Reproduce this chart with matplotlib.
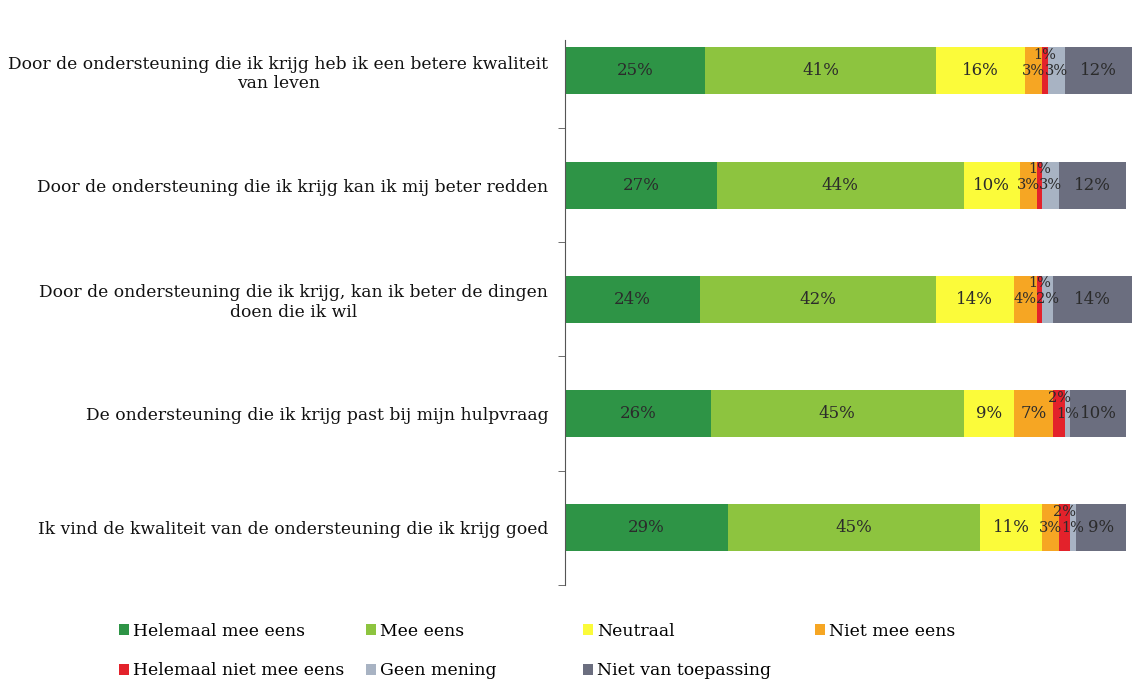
import matplotlib.pyplot as plt
import numpy as np

# statements (top to bottom)
stellingen = [
    "Door de ondersteuning die ik krijg heb ik een betere kwaliteit\nvan leven",
    "Door de ondersteuning die ik krijg kan ik mij beter redden",
    "Door de ondersteuning die ik krijg, kan ik beter de dingen\ndoen die ik wil",
    "De ondersteuning die ik krijg past bij mijn hulpvraag",
    "Ik vind de kwaliteit van de ondersteuning die ik krijg goed",
]

antwoorden = ["Helemaal mee eens", "Mee eens", "Neutraal", "Niet mee eens",
              "Helemaal niet mee eens", "Geen mening", "Niet van toepassing"]

helemaal_mee_eens = [25, 27, 24, 26, 29]
mee_eens = [41, 44, 42, 45, 45]
neutraal = [16, 10, 14, 9, 11]
niet_mee_eens = [3, 3, 4, 7, 3]
helemaal_niet_mee_eens = [1, 1, 1, 2, 2]
geen_mening = [3, 3, 2, 1, 1]
niet_van_toepassing = [12, 12, 14, 10, 9]

kleuren = ["#2e9446", "#8dc43f", "#fbfb3a", "#f6a623", "#e3222b", "#a8b3c3", "#6b6e7f"]

series = [helemaal_mee_eens, mee_eens, neutraal, niet_mee_eens,
          helemaal_niet_mee_eens, geen_mening, niet_van_toepassing]

plt.rcParams['font.family'] = ['DejaVu Serif']

fig = plt.figure(figsize=(11.32, 6.83), dpi=100)
ax = fig.add_axes([565/1132, 1-585/683, 1-565/1132, 545/683])

y = np.arange(len(stellingen))
links = np.zeros(len(stellingen))
balken = []
for i, (waarden, kleur) in enumerate(zip(series, kleuren)):
    w = np.array(waarden, dtype=float)
    b = ax.barh(y, w, left=links, height=0.41, color=kleur, label=antwoorden[i])
    balken.append(b)
    for r in range(len(w)):
        dy = 0
        # small red labels pushed up like excel does
        if i == 4:
            dy = -0.14
        fs = 12 if w[r] >= 5 else 10.5
        ax.text(links[r] + w[r]/2, y[r] + dy, f"{int(w[r])}%", ha='center', va='center',
                fontsize=fs, color='#2b2b2b')
    links += w

ax.set_xlim(0, 101)
ax.set_ylim(4.49, -0.27)
ax.set_yticks(y)
ax.set_yticklabels(stellingen, fontsize=12.3, multialignment='center', color='#111111')
ax.tick_params(axis='y', length=0, pad=12)
ax.set_yticks(np.arange(-0.5, 5.0, 1)[1:], minor=True)
ax.tick_params(axis='y', which='minor', length=5, color='#555555')
ax.set_xticks([])
for s in ['top', 'right', 'bottom']:
    ax.spines[s].set_visible(False)
ax.spines['left'].set_color('#555555')

# legend in four columns
kolommen = [[0, 4], [1, 5], [2, 6], [3]]
xpos = [0.099, 0.317, 0.509, 0.714]
for kol, xp in zip(kolommen, xpos):
    fig.legend([balken[k] for k in kol], [antwoorden[k] for k in kol],
               loc='upper left', bbox_to_anchor=(xp, 0.098), frameon=False,
               fontsize=12.4, handlelength=0.6, handleheight=0.6, handletextpad=0.2,
               labelspacing=1.3, borderaxespad=0)

fig.savefig("out.png", dpi=100)
